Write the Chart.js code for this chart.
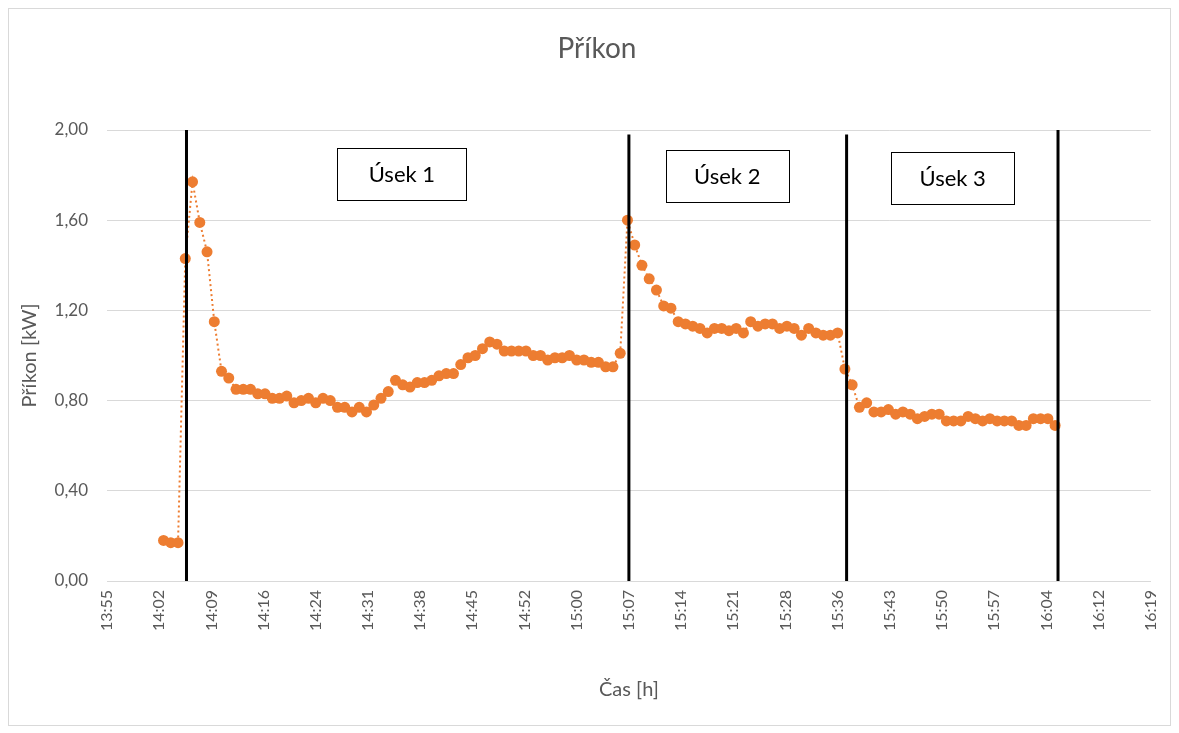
<!DOCTYPE html>
<html>
<head>
<meta charset="utf-8">
<title>Příkon</title>
<script src="https://cdn.jsdelivr.net/npm/chart.js@4.4.1/dist/chart.umd.min.js"></script>
<style>
  html, body { margin: 0; padding: 0; background: #fff; }
</style>
</head>
<body>
<canvas id="prikonChart" width="1179" height="733"></canvas>
<script>
// měření příkonu po minutách
const cas = [
  '14:03', '14:04', '14:05', '14:06', '14:07', '14:08', '14:09', '14:10', '14:11', '14:12',
  '14:13', '14:14', '14:15', '14:16', '14:17', '14:18', '14:19', '14:20', '14:21', '14:22',
  '14:23', '14:24', '14:25', '14:26', '14:27', '14:28', '14:29', '14:30', '14:31', '14:32',
  '14:33', '14:34', '14:35', '14:36', '14:37', '14:38', '14:39', '14:40', '14:41', '14:42',
  '14:43', '14:44', '14:45', '14:46', '14:47', '14:48', '14:49', '14:50', '14:51', '14:52',
  '14:53', '14:54', '14:55', '14:56', '14:57', '14:58', '14:59', '15:00', '15:01', '15:02',
  '15:03', '15:04', '15:05', '15:06', '15:07', '15:08', '15:09', '15:10', '15:11', '15:12',
  '15:13', '15:14', '15:15', '15:16', '15:17', '15:18', '15:19', '15:20', '15:21', '15:22',
  '15:23', '15:24', '15:25', '15:26', '15:27', '15:28', '15:29', '15:30', '15:31', '15:32',
  '15:33', '15:34', '15:35', '15:36', '15:37', '15:38', '15:39', '15:40', '15:41', '15:42',
  '15:43', '15:44', '15:45', '15:46', '15:47', '15:48', '15:49', '15:50', '15:51', '15:52',
  '15:53', '15:54', '15:55', '15:56', '15:57', '15:58', '15:59', '16:00', '16:01', '16:02',
  '16:03', '16:04', '16:05', '16:06'
];

const prikon = [
  0.18, 0.17, 0.17, 1.43, 1.77, 1.59, 1.46, 1.15, 0.93, 0.90,
  0.85, 0.85, 0.85, 0.83, 0.83, 0.81, 0.81, 0.82, 0.79, 0.80,
  0.81, 0.79, 0.81, 0.80, 0.77, 0.77, 0.75, 0.77, 0.75, 0.78,
  0.81, 0.84, 0.89, 0.87, 0.86, 0.88, 0.88, 0.89, 0.91, 0.92,
  0.92, 0.96, 0.99, 1.00, 1.03, 1.06, 1.05, 1.02, 1.02, 1.02,
  1.02, 1.00, 1.00, 0.98, 0.99, 0.99, 1.00, 0.98, 0.98, 0.97,
  0.97, 0.95, 0.95, 1.01, 1.60, 1.49, 1.40, 1.34, 1.29, 1.22,
  1.21, 1.15, 1.14, 1.13, 1.12, 1.10, 1.12, 1.12, 1.11, 1.12,
  1.10, 1.15, 1.13, 1.14, 1.14, 1.12, 1.13, 1.12, 1.09, 1.12,
  1.10, 1.09, 1.09, 1.10, 0.94, 0.87, 0.77, 0.79, 0.75, 0.75,
  0.76, 0.74, 0.75, 0.74, 0.72, 0.73, 0.74, 0.74, 0.71, 0.71,
  0.71, 0.73, 0.72, 0.71, 0.72, 0.71, 0.71, 0.71, 0.69, 0.69,
  0.72, 0.72, 0.72, 0.69
];

// popisky časové osy (krok 0,005 dne = 7,2 min)
const casTicks = [
  '13:55', '14:02', '14:09', '14:16', '14:24', '14:31', '14:38', '14:45', '14:52', '15:00',
  '15:07', '15:14', '15:21', '15:28', '15:36', '15:43', '15:50', '15:57', '16:04', '16:12',
  '16:19'
];
const osaOd = '13:55:12';
const osaDo = '16:19:12';

const prikonTicks = [0, 0.4, 0.8, 1.2, 1.6, 2.0];

// hranice úseků měření
const hraniceCas = ['14:06:10', '15:07:12', '15:37:14', '16:06:24'];
const hraniceHorni = [2.0, 1.98, 1.98, 2.0];

// popisky úseků (střed rámečku)
const usekNazvy = ['Úsek 1', 'Úsek 2', 'Úsek 3'];
const usekCas = ['14:35:53', '15:20:46', '15:51:52'];
const usekPrikon = [1.805, 1.796, 1.789];

function naMinuty(t) {
  const p = t.split(':').map(Number);
  return p[0] * 60 + p[1] + (p[2] || 0) / 60;
}

const FONT = 'Lato, "Open Sans", sans-serif';
const SEDA = '#595959';

// pozadí, okraj grafu a nadpis
const ramecek = {
  id: 'ramecek',
  beforeDraw(chart, args, opts) {
    const ctx = chart.ctx;
    ctx.save();
    ctx.fillStyle = '#fff';
    ctx.fillRect(0, 0, chart.width, chart.height);
    ctx.strokeStyle = '#d9d9d9';
    ctx.lineWidth = 1;
    ctx.strokeRect(8.5, 8.5, 1162, 717);
    ctx.fillStyle = SEDA;
    ctx.font = opts.fontSize + 'px ' + FONT;
    ctx.textAlign = 'center';
    ctx.textBaseline = 'middle';
    ctx.fillText(opts.text, 597, 49);
    ctx.restore();
  }
};

const useky = {
  id: 'useky',
  afterDatasetsDraw(chart, args, opts) {
    const ctx = chart.ctx;
    const x = chart.scales.x, y = chart.scales.y;
    ctx.save();
    // svislé čáry mezi úseky
    ctx.strokeStyle = '#000';
    ctx.lineWidth = 3;
    hraniceCas.forEach((t, i) => {
      const px = x.getPixelForValue(naMinuty(t));
      ctx.beginPath();
      ctx.moveTo(px, y.getPixelForValue(hraniceHorni[i]));
      ctx.lineTo(px, y.getPixelForValue(0));
      ctx.stroke();
    });
    // rámečky s názvy úseků
    ctx.font = opts.fontSize + 'px ' + FONT;
    ctx.textAlign = 'center';
    ctx.textBaseline = 'middle';
    usekNazvy.forEach((nazev, i) => {
      const cx = x.getPixelForValue(naMinuty(usekCas[i]));
      const cy = y.getPixelForValue(usekPrikon[i]);
      const w = opts.sirky[i], h = opts.vyska;
      const l = Math.round(cx - w / 2) + 0.5, t = Math.round(cy - h / 2) + 0.5;
      ctx.fillStyle = '#fff';
      ctx.fillRect(l, t, w, h);
      ctx.strokeStyle = '#000';
      ctx.lineWidth = 1;
      ctx.strokeRect(l, t, w, h);
      ctx.fillStyle = '#000';
      ctx.fillText(nazev, cx, cy + 1);
    });
    ctx.restore();
  }
};

const tickHodnoty = casTicks.map((_, i) =>
  naMinuty(osaOd) + i * (naMinuty(osaDo) - naMinuty(osaOd)) / (casTicks.length - 1));

new Chart(document.getElementById('prikonChart'), {
  type: 'line',
  data: {
    datasets: [{
      label: 'Příkon',
      data: cas.map((t, i) => ({ x: naMinuty(t), y: prikon[i] })),
      borderColor: '#ED7D31',
      backgroundColor: '#ED7D31',
      borderWidth: 2,
      borderDash: [2, 3],
      pointRadius: 5.5,
      pointHoverRadius: 5.5,
      pointBorderWidth: 0,
      pointBackgroundColor: '#ED7D31',
      tension: 0
    }]
  },
  options: {
    responsive: false,
    animation: false,
    devicePixelRatio: 1,
    layout: { padding: { left: 0, right: 26, top: 130, bottom: 0 } },
    plugins: {
      legend: { display: false },
      tooltip: { enabled: false },
      title: { display: false },
      ramecek: { text: 'Příkon', fontSize: 28 },
      useky: { fontSize: 22, sirky: [129, 123, 123], vyska: 52 }
    },
    scales: {
      x: {
        type: 'linear',
        min: naMinuty(osaOd),
        max: naMinuty(osaDo),
        afterBuildTicks: s => { s.ticks = tickHodnoty.map(v => ({ value: v })); },
        afterFit: s => { s.height = 152; },
        grid: { display: false, drawTicks: false },
        border: { display: true, color: '#d9d9d9' },
        ticks: {
          autoSkip: false,
          minRotation: 90,
          maxRotation: 90,
          padding: 9,
          color: SEDA,
          font: { family: FONT, size: 16 },
          callback: (v, i) => casTicks[i]
        },
        title: {
          display: true,
          text: 'Čas [h]',
          color: SEDA,
          font: { family: FONT, size: 20 },
          padding: { top: 0, bottom: 31 }
        }
      },
      y: {
        min: 0,
        max: 2,
        afterBuildTicks: s => { s.ticks = prikonTicks.map(v => ({ value: v })); },
        afterFit: s => { s.width = 107; },
        grid: { color: '#d9d9d9', drawTicks: false },
        border: { display: false },
        ticks: {
          padding: 19,
          color: SEDA,
          font: { family: FONT, size: 17 },
          callback: v => v.toFixed(2).replace('.', ',')
        },
        title: {
          display: true,
          text: 'Příkon [kW]',
          color: SEDA,
          font: { family: FONT, size: 20 },
          padding: { top: 18, bottom: 0 }
        }
      }
    }
  },
  plugins: [ramecek, useky]
});
</script>
</body>
</html>
